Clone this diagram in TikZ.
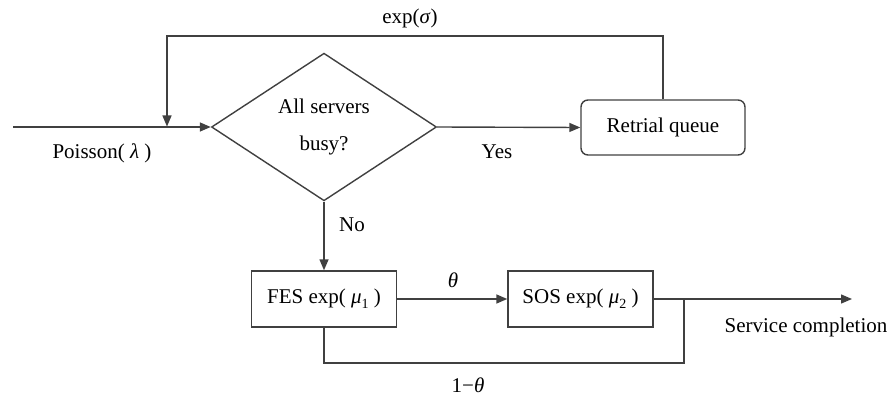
\documentclass[tikz,border=0pt]{standalone}
\usepackage{fontspec}
\setmainfont{Liberation Serif}
\usetikzlibrary{arrows.meta,shapes.geometric}
\newcommand\grk[1]{\textit{#1}}
\newcommand\grksub[2]{\textit{#1}\raisebox{-0.22em}{\fontsize{14}{14}\selectfont #2}}
\begin{document}
\begin{tikzpicture}[x=1pt,y=-1pt,
  wire/.style={draw=black!75, line width=1.4pt},
  arr/.style={wire, -{Triangle[length=11pt,width=9pt]}},
  lbl/.style={font=\fontsize{21}{24}\selectfont, inner sep=0pt},
  proc/.style={draw=black!75, line width=1.4pt, minimum width=145pt,
    minimum height=56pt, inner sep=0pt, font=\fontsize{21}{24}\selectfont},
  queue/.style={proc, rounded corners=7pt, minimum width=164pt, minimum height=55pt},
  decision/.style={draw=black!75, line width=1.4pt, diamond, minimum width=225pt,
    minimum height=144pt, inner sep=0pt, align=center,
    font=\fontsize{21}{37}\selectfont}]
  \useasboundingbox (0,0) rectangle (894,398);

  % nodes
  \node[decision] (dec) at (324,127) {All servers\\busy?};
  \node[queue] (rq) at (663,127.5) {Retrial queue};
  \node[proc] (fes) at (324,299) {FES exp( \grksub{μ}{1} )};
  \node[proc] (sos) at (580.5,299) {SOS exp( \grksub{μ}{2} )};

  % free ends and bends
  \coordinate (in) at (13,127);
  \coordinate (merge) at (167,126.5);
  \coordinate (loopL) at (167,36);
  \coordinate (loopR) at (663,36);
  \coordinate (out) at (852,299);
  \coordinate (join) at (684,299);
  \coordinate (fbL) at (324,363);
  \coordinate (fbR) at (684,363);

  % connectors
  \draw[arr] (in) -- (dec.west);
  \draw[arr] (rq.north) -- (loopR) -- (loopL) -- (merge);
  \draw[arr] (dec.east) -- (rq.west);
  \draw[arr] (dec.south) -- (fes.north);
  \draw[arr] (fes.east) -- (sos.west);
  \draw[arr] (sos.east) -- (out);
  \draw[wire] (fes.south) -- (fbL) -- (fbR) -- (join);

  % labels
  \node[lbl] (lsig) at (410,18) {exp(\grk{σ})};
  \node[lbl] (llam) at (102,153) {Poisson( \grk{λ} )};
  \node[lbl] (lyes) at (497,152) {Yes};
  \node[lbl] (lno) at (352,225) {No};
  \node[lbl] (lth) at (453,280) {\grk{θ}};
  \node[lbl] (lth1) at (468,385) {1−\grk{θ}};
  \node[lbl] (lsc) at (806,327) {Service completion};
\end{tikzpicture}
\end{document}
